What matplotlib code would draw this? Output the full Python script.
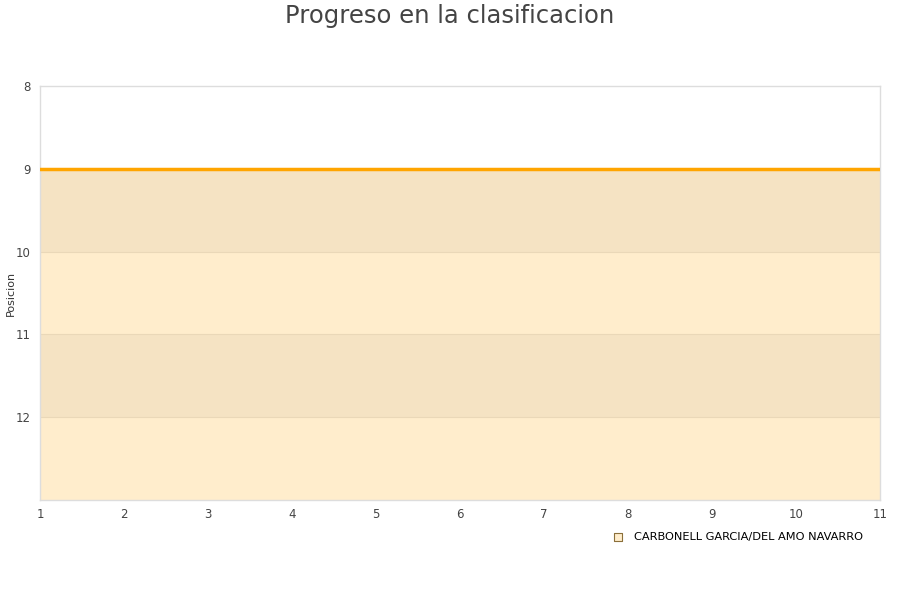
import matplotlib.pyplot as plt
import numpy as np

# Datos
jornadas = [1, 2, 3, 4, 5, 6, 7, 8, 9, 10, 11]
posiciones = [9, 9, 9, 9, 9, 9, 9, 9, 9, 9, 9]
equipo = "CARBONELL GARCIA/DEL AMO NAVARRO"
y_ticks = [8, 9, 10, 11, 12]

fig = plt.figure(figsize=(9, 6), dpi=100)
ax = fig.add_axes([40 / 900, 100 / 600, 840 / 900, 414 / 600])

x = np.array(jornadas)
y = np.array(posiciones, dtype=float)
y_min, y_max = 8, 13

# area bajo la linea, con bandas alternas
ax.fill_between(x, y, y_max, color="#FFEDCC", lw=0, zorder=1)
for lo in range(9, 13):
    if lo % 2 == 1:
        top = np.maximum(y, lo)
        ax.fill_between(x, top, np.maximum(top, lo + 1), color="#F5E3C3", lw=0, zorder=1.5)

for t in [10, 11, 12]:
    ax.axhline(t, color="#EAD8B8", lw=0.8, zorder=2)

ax.plot(x, y, color="#FFA500", lw=2.5, zorder=3)

ax.set_xlim(1, 11)
ax.set_ylim(y_max, y_min)
ax.set_xticks(jornadas)
ax.set_yticks(y_ticks)
ax.tick_params(length=0, labelsize=8.5, colors="#444444", pad=7)
ax.tick_params(axis="x", pad=6)
for s in ax.spines.values():
    s.set_color("#DDDDDD")
    s.set_linewidth(1)

fig.text(11 / 900, 1 - 293 / 600, "Posicion", rotation=90, fontsize=8, color="#333333",
         ha="center", va="center")

fig.text(0.5, 1 - 16 / 600, "Progreso en la clasificacion", fontsize=17.5,
         color="#444444", ha="center", va="center")

h = ax.scatter([], [], marker="s", s=30, facecolor="#FFEDCC", edgecolor="#8B6F3A", linewidth=0.8)
fig.legend([h], [equipo], loc="center right", bbox_to_anchor=(869 / 900, 1 - 537 / 600),
           frameon=False, fontsize=8.2, handletextpad=0.4, borderpad=0)

fig.savefig("out.png", dpi=100)
